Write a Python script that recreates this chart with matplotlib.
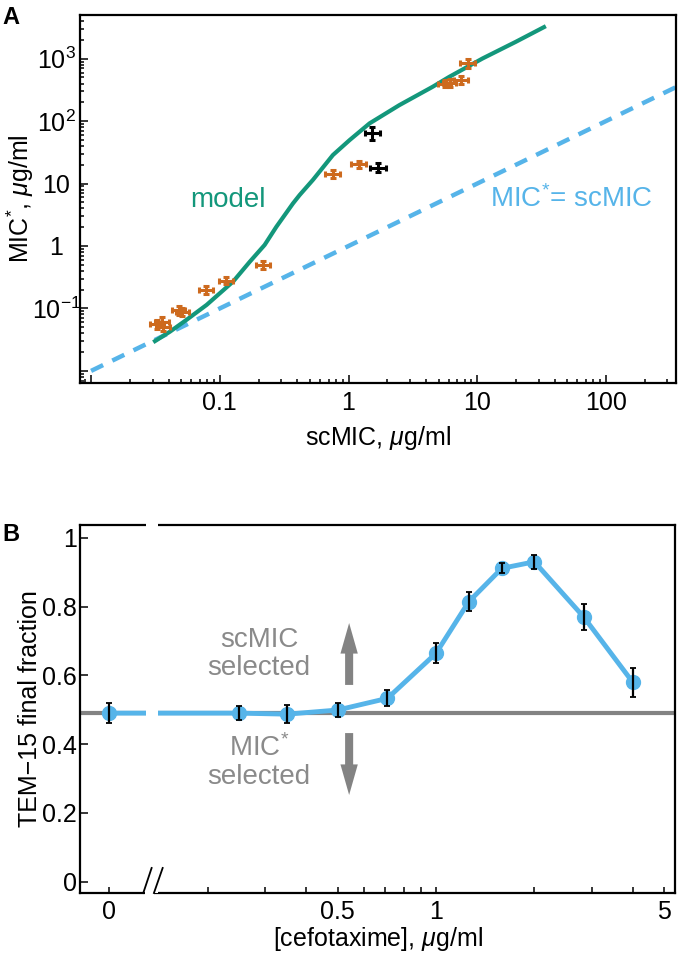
import numpy as np
import matplotlib
matplotlib.use('Agg')
import matplotlib.pyplot as plt
import matplotlib.transforms as mtransforms
from matplotlib.patches import Rectangle
from matplotlib.ticker import FixedLocator, FixedFormatter, LogLocator, NullFormatter

plt.rcParams['font.family'] = ['Liberation Sans', 'DejaVu Sans']
plt.rcParams['mathtext.fontset'] = 'custom'
plt.rcParams['mathtext.rm'] = 'Liberation Sans'
plt.rcParams['mathtext.it'] = 'Liberation Sans:italic'
plt.rcParams['mathtext.bf'] = 'Liberation Sans:bold'

# ---------------- Panel A data ----------------
model_scmic = [0.0304, 0.041, 0.055, 0.079, 0.127, 0.171, 0.223, 0.275, 0.37, 0.417,
               0.53, 0.756, 1.02, 1.455, 2.48, 4.5, 6.06, 11.0, 19.9, 34.1]
model_mic = [0.0288, 0.0425, 0.0655, 0.114, 0.27, 0.56, 1.04, 2.03, 4.8, 6.55,
             11.5, 28.6, 49.7, 91.8, 180, 354, 511, 1007, 1857, 3313]

orange_scmic = [0.0323, 0.0353, 0.0363, 0.048, 0.051, 0.078, 0.111, 0.217, 0.755, 1.20,
                5.6, 6.1, 7.5, 8.4]
orange_mic = [0.0559, 0.0615, 0.0511, 0.093, 0.088, 0.198, 0.278, 0.497, 14.2, 20.3,
              400, 410, 453, 838]
orange_xerr_dec = [0.055, 0.055, 0.055, 0.05, 0.05, 0.055, 0.055, 0.055, 0.058, 0.058,
                   0.05, 0.05, 0.055, 0.055]
orange_yerr_dec = [0.07, 0.07, 0.07, 0.07, 0.07, 0.06, 0.06, 0.06, 0.06, 0.06,
                   0.06, 0.06, 0.06, 0.065]

black_scmic = [1.53, 1.69]
black_mic = [63.6, 17.9]
black_xerr_dec = [0.06, 0.06]
black_yerr_dec = [0.11, 0.07]

identity_range = [0.01, 350]

xticks_A = [0.01, 0.1, 1, 10, 100]
xticklabels_A = ['', '0.1', '1', '10', '100']
yticks_A = [0.01, 0.1, 1, 10, 100, 1000]
yticklabels_A = ['', r'$10^{-1}$', '1', '10', r'$10^{2}$', r'$10^{3}$']

# ---------------- Panel B data ----------------
conc = [0, 0.25, 0.35, 0.5, 0.71, 1.0, 1.26, 1.59, 2.0, 2.83, 4.0]
frac = [0.490, 0.490, 0.487, 0.499, 0.533, 0.664, 0.814, 0.911, 0.930, 0.770, 0.580]
frac_err = [0.029, 0.020, 0.027, 0.019, 0.023, 0.029, 0.028, 0.015, 0.021, 0.037, 0.042]
null_level = 0.49

xticks_B = [0.1, 0.2, 0.3, 0.4, 0.5, 0.6, 0.7, 0.8, 0.9, 1, 2, 3, 4, 5]
xticklabels_B = ['0', '', '', '', '0.5', '', '', '', '', '1', '', '', '', '5']
yticks_B = [0, 0.2, 0.4, 0.6, 0.8, 1.0]
yticklabels_B = ['0', '0.2', '0.4', '0.6', '0.8', '1']

# ---------------- styling ----------------
GREEN = '#13977B'
ORANGE = '#CD6A1E'
BLUE = '#56B4E9'
GRAY = '#838383'
TXTGRAY = '#8A8A8A'
FS = 18

fig = plt.figure(figsize=(6.78, 9.55), dpi=100)
W, H = 678, 955

def ax_rect(l, t, r, b):
    return [l / W, 1 - b / H, (r - l) / W, (b - t) / H]

# ================= Panel A =================
axA = fig.add_axes(ax_rect(80, 15, 676, 383))
axA.set_xscale('log')
axA.set_yscale('log')
axA.set_xlim(0.0082, 350)
axA.set_ylim(0.0064, 5000)

axA.plot(identity_range, identity_range, color=BLUE, lw=3.2,
         linestyle=(0, (3.0, 2.3)), dash_capstyle='butt', zorder=2)
axA.plot(model_scmic, model_mic, color=GREEN, lw=3.0, solid_capstyle='butt',
         solid_joinstyle='round', zorder=3)

def log_err(vals, decs):
    v = np.asarray(vals, float)
    d = np.asarray(decs, float)
    return np.vstack([v - v * 10 ** (-d), v * 10 ** d - v])

axA.errorbar(orange_scmic, orange_mic,
             xerr=log_err(orange_scmic, orange_xerr_dec),
             yerr=log_err(orange_mic, orange_yerr_dec),
             fmt='none', ecolor=ORANGE, elinewidth=2.2, capsize=2.0, capthick=2.2, zorder=4)
axA.errorbar(black_scmic, black_mic,
             xerr=log_err(black_scmic, black_xerr_dec),
             yerr=log_err(black_mic, black_yerr_dec),
             fmt='none', ecolor='black', elinewidth=2.2, capsize=2.0, capthick=2.2, zorder=4)

axA.text(0.115, 5.45, 'model', color=GREEN, fontsize=20, ha='center', va='center')
axA.text(53.6, 5.65, r'MIC$^{*}$= scMIC', color=BLUE, fontsize=20, ha='center', va='center')

axA.xaxis.set_major_locator(FixedLocator(xticks_A))
axA.xaxis.set_major_formatter(FixedFormatter(xticklabels_A))
axA.xaxis.set_minor_locator(LogLocator(base=10, subs=np.arange(2, 10), numticks=30))
axA.xaxis.set_minor_formatter(NullFormatter())
axA.yaxis.set_major_locator(FixedLocator(yticks_A))
axA.yaxis.set_major_formatter(FixedFormatter(yticklabels_A))
axA.yaxis.set_minor_locator(LogLocator(base=10, subs=np.arange(2, 10), numticks=30))
axA.yaxis.set_minor_formatter(NullFormatter())

axA.tick_params(which='both', direction='in', top=False, right=False, width=1.1)
axA.tick_params(which='major', length=5.5)
axA.tick_params(which='minor', length=3)
axA.tick_params(axis='x', which='major', labelsize=FS, pad=6)
axA.tick_params(axis='y', which='major', labelsize=FS, pad=17)
for lab in axA.get_yticklabels():
    lab.set_horizontalalignment('center')
for s in axA.spines.values():
    s.set_linewidth(1.6)

axA.set_xlabel(r'scMIC, $\mu$g/ml', fontsize=FS, labelpad=6)
axA.set_ylabel(r'MIC$^{*}$, $\mu$g/ml', fontsize=FS)
axA.yaxis.set_label_coords(-0.074, 0.5)

fig.text(2 / W, 1 - 6 / H, 'A', fontsize=17, fontweight='bold', ha='left', va='top')

# ================= Panel B =================
axB = fig.add_axes(ax_rect(80, 525, 675, 893))
axB.set_xscale('log')
axB.set_xlim(0.0813, 5.39)
axB.set_ylim(-0.033, 1.037)

ZERO_AT = 0.1
BREAK_LO, BREAK_HI = 0.1294, 0.141
xpos = [ZERO_AT if c == 0 else c for c in conc]

axB.axhline(null_level, color=GRAY, lw=3.0, zorder=2)
axB.plot(xpos, frac, color=BLUE, lw=3.5, zorder=3, solid_joinstyle='round')
axB.plot(xpos, frac, 'o', color=BLUE, ms=10, zorder=4)
axB.errorbar(xpos, frac, yerr=frac_err, fmt='none', ecolor='black',
             elinewidth=1.6, capsize=2.2, capthick=1.3, zorder=5)
axB.axvspan(BREAK_LO, BREAK_HI, color='white', lw=0, zorder=6)

blend = mtransforms.blended_transform_factory(axB.transData, axB.transAxes)
axB.add_patch(Rectangle((BREAK_LO, 0.985), BREAK_HI - BREAK_LO, 0.03, transform=blend,
                        color='white', lw=0, clip_on=False, zorder=10))
axB.add_patch(Rectangle((0.1285, -0.015), 0.1365 - 0.1285, 0.03, transform=blend,
                        color='white', lw=0, clip_on=False, zorder=10))
for xa, xb in [(0.127, 0.1347), (0.1369, 0.1456)]:
    axB.plot([xa, xb], [0.0, 0.068], transform=blend, color='black', lw=1.3,
             clip_on=False, zorder=11)

ARROW_X = 0.542
arrow_style = 'simple,head_length=2.2,head_width=1.25,tail_width=0.58'
axB.annotate('', xy=(ARROW_X, 0.752), xytext=(ARROW_X, 0.572),
             arrowprops=dict(arrowstyle=arrow_style, color=GRAY, lw=0,
                             mutation_scale=10, shrinkA=0, shrinkB=0), zorder=7)
axB.annotate('', xy=(ARROW_X, 0.252), xytext=(ARROW_X, 0.432),
             arrowprops=dict(arrowstyle=arrow_style, color=GRAY, lw=0,
                             mutation_scale=10, shrinkA=0, shrinkB=0), zorder=7)
axB.text(0.287, 0.662, 'scMIC\nselected', color=TXTGRAY, fontsize=20,
         ha='center', va='center', linespacing=1.1)
axB.text(0.287, 0.348, 'MIC$^{*}$\nselected', color=TXTGRAY, fontsize=20,
         ha='center', va='center', linespacing=1.1)

axB.xaxis.set_major_locator(FixedLocator(xticks_B))
axB.xaxis.set_major_formatter(FixedFormatter(xticklabels_B))
axB.xaxis.set_minor_locator(FixedLocator([]))
axB.yaxis.set_major_locator(FixedLocator(yticks_B))
axB.yaxis.set_major_formatter(FixedFormatter(yticklabels_B))
axB.tick_params(which='both', direction='in', top=False, right=False, width=1.1)
axB.tick_params(axis='x', which='major', length=4.5, labelsize=FS, pad=5)
axB.tick_params(axis='y', which='major', length=5.5, labelsize=FS, pad=2)
for s in axB.spines.values():
    s.set_linewidth(1.6)

axB.set_xlabel(r'[cefotaxime], $\mu$g/ml', fontsize=FS, labelpad=1)
axB.set_ylabel('TEM\u221215 final fraction', fontsize=FS)
axB.yaxis.set_label_coords(-0.064, 0.5)

fig.text(2 / W, 1 - 523 / H, 'B', fontsize=17, fontweight='bold', ha='left', va='top')

fig.savefig('out.png', dpi=100)
